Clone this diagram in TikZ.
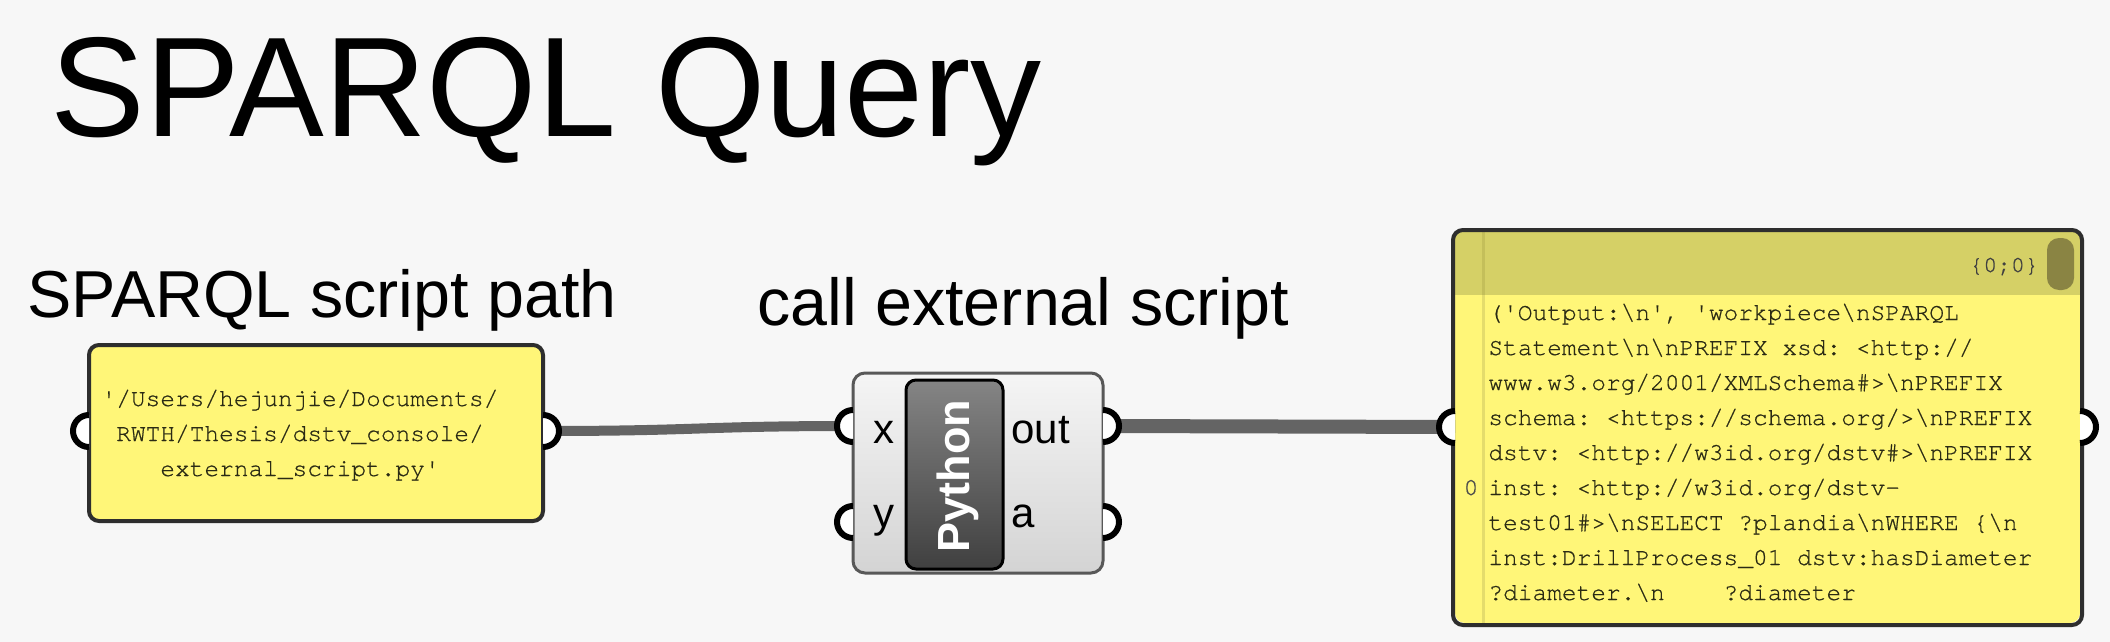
\documentclass[tikz,border=0pt]{standalone}
\usepackage{fontspec}
\setmainfont{Liberation Sans}
\setmonofont[FakeBold=0.6]{texgyrecursor-regular.otf}
\definecolor{canvas}{HTML}{F7F7F7}
\definecolor{panelfill}{HTML}{FFF678}
\definecolor{panelhead}{HTML}{D5D066}
\definecolor{panelthumb}{HTML}{8A8443}
\definecolor{panelrule}{HTML}{E4DC6C}
\definecolor{headrule}{HTML}{C4BF5A}
\definecolor{wiregrey}{HTML}{646464}
\definecolor{framegrey}{HTML}{2E2E2E}
\definecolor{compframe}{HTML}{585858}
\definecolor{inktext}{HTML}{2A2A14}
\newcommand{\bs}{\textbackslash}

\begin{document}
\begin{tikzpicture}[x=0.5pt,y=-0.5pt,
  title/.style={inner sep=0pt,anchor=base west,font=\fontsize{71}{80}\selectfont},
  caption/.style={inner sep=0pt,anchor=base west,font=\fontsize{33.2}{38}\selectfont},
  panel/.style={fill=panelfill,draw=framegrey,line width=2pt,rounded corners=5pt,inner sep=0pt},
  paneltext/.style={inner sep=0pt,text=inktext,font=\ttfamily\fontsize{12.25}{14}\selectfont},
  comp/.style={draw=compframe,line width=1.5pt,rounded corners=6pt,top color=black!4,bottom color=black!17,inner sep=0pt},
  pybox/.style={draw=black,line width=1.5pt,rounded corners=5pt,top color=black!48,bottom color=black!75,inner sep=0pt},
  pyname/.style={rotate=90,inner sep=0pt,text=white,font=\bfseries\fontsize{22.5}{26}\selectfont},
  portlabel/.style={inner sep=0pt,anchor=base west,font=\fontsize{21}{24}\selectfont},
  wire/.style={draw=wiregrey,line width=5pt},
  pics/inport/.style={code={\filldraw[fill=white,draw=black,line width=3pt] (0,8pt) arc[start angle=90,end angle=270,radius=8pt];}},
  pics/outport/.style={code={\filldraw[fill=white,draw=black,line width=3pt] (0,8pt) arc[start angle=90,end angle=-90,radius=8pt];}}
]
\fill[canvas] (0,0) rectangle (2110,642);

\node[title] (title) at (50,137) {SPARQL Query};
\node[caption] (pathlabel) at (27,317) {SPARQL script path};
\node[caption] (calllabel) at (757,325) {call external script};

\node[panel,minimum width=227pt,minimum height=88pt] (pathpanel) at (316,433) {};
\foreach \t [count=\i] in {{'/Users/hejunjie/Documents/},{RWTH/Thesis/dstv\_console/},{external\_script.py'}}
  \node[paneltext,anchor=base] (pathline\i) at (300,{371+35*\i}) {\t};

\node[comp,minimum width=125pt,minimum height=100pt] (pycomp) at (978,473) {};
\node[pybox,minimum width=48.5pt,minimum height=94.5pt] (pybox) at (954.5,474.5) {};
\node[pyname] (pyname) at (958,476) {Python};
\node[portlabel] (xlabel) at (873,443) {x};
\node[portlabel] (ylabel) at (873,527) {y};
\node[portlabel] (outlabel) at (1011,443) {out};
\node[portlabel] (alabel) at (1011,527) {a};

\node[panel,draw=none,minimum width=312.5pt,minimum height=195.5pt] (outpanel) at (1767.5,427.5) {};
\begin{scope}
  \clip[rounded corners=5pt] (outpanel.north west) rectangle (outpanel.south east);
  \fill[panelhead] (outpanel.north west) rectangle (2080,295);
\end{scope}
\draw[headrule,line width=1.5pt] (1483,232) -- (1483,295);
\draw[panelrule,line width=1.5pt] (1483,295) -- (1483,623);
\fill[panelthumb,rounded corners=6pt] (2047,238) rectangle (2074,290);
\draw[framegrey,line width=2pt,rounded corners=5pt] (outpanel.north west) rectangle (outpanel.south east);
\node[paneltext,anchor=base east,text=black!75,font=\ttfamily\fontsize{11.5}{13}\selectfont] (count) at (2039,272) {\{0;0\}};
\node[paneltext,anchor=base,text=black!70] (index) at (1471,495) {0};
\foreach \t [count=\i] in {{('Output:\bs n', 'workpiece\bs nSPARQL},
  {Statement\bs n\bs nPREFIX xsd: <http://},
  {www.w3.org/2001/XMLSchema\#>\bs nPREFIX},
  {schema: <https://schema.org/>\bs nPREFIX},
  {dstv: <http://w3id.org/dstv\#>\bs nPREFIX},
  {inst: <http://w3id.org/dstv-},
  {test01\#>\bs nSELECT ?plandia\bs nWHERE \{\bs n},
  {inst:DrillProcess\_01 dstv:hasDiameter},
  {?diameter.\bs n\phantom{xxxx}?diameter}}
  \node[paneltext,anchor=base west] (outline\i) at (1488,{285+35*\i}) {\t};

\coordinate (pathin) at (89,431);
\coordinate (pathout) at (543,431);
\coordinate (xin) at (853,426);
\coordinate (yin) at (853,522);
\coordinate (outout) at (1103,426);
\coordinate (aout) at (1103,522);
\coordinate (panelin) at (1455,427);
\coordinate (panelout) at (2080,427);

\draw[wire] (pathout) .. controls (700,431) and (700,426) .. (xin);
\draw[wire,line width=7pt] (outout) -- (panelin);

\pic at (pathin) {inport};
\pic at (pathout) {outport};
\pic at (xin) {inport};
\pic at (yin) {inport};
\pic at (outout) {outport};
\pic at (aout) {outport};
\pic at (panelin) {inport};
\pic at (panelout) {outport};
\end{tikzpicture}
\end{document}
